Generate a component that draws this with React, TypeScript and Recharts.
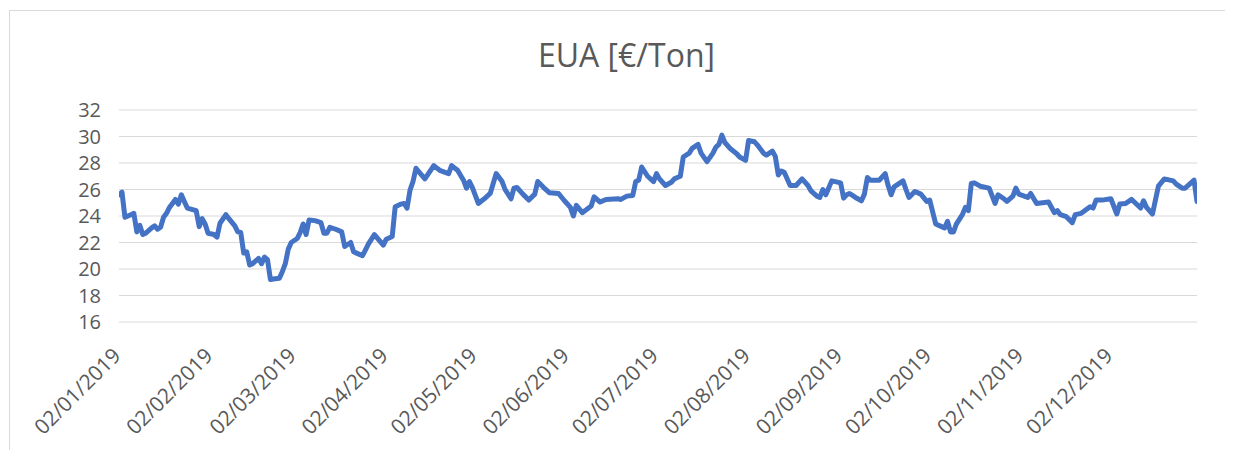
import React from "react";
import { LineChart, Line, XAxis, YAxis, CartesianGrid } from "recharts";

// Trading days of 2019, as day-of-year (1 = 1 Jan)
const dayOfYear = [
  2, 3, 4, 6, 7, 8, 9, 10, 11, 13, 14, 15, 16, 17, 18, 19, 21, 22, 23, 24, 25, 28, 29, 30, 31, 32, 34, 35, 36, 38,
  39, 41, 42, 43, 44, 45, 46, 47, 49, 50, 51, 52, 53, 54, 56, 57, 58, 59, 60, 62, 63, 64, 65, 66, 68, 70, 71, 72, 73, 75,
  77, 78, 80, 81, 82, 84, 85, 86, 88, 91, 92, 94, 95, 97, 98, 99, 100, 101, 102, 105, 108, 110, 113, 114, 116, 118, 119, 120, 121, 123,
  125, 127, 129, 131, 132, 134, 135, 136, 138, 140, 142, 143, 145, 147, 150, 152, 154, 155, 156, 158, 161, 162, 164, 166, 170, 171, 173, 175, 176, 177,
  178, 180, 182, 183, 184, 186, 188, 189, 190, 191, 192, 194, 195, 197, 198, 200, 202, 203, 204, 205, 206, 208, 210, 211, 213, 214, 216, 217, 219, 220,
  222, 223, 224, 225, 226, 228, 230, 232, 234, 235, 237, 238, 239, 240, 242, 245, 246, 247, 248, 250, 252, 253, 254, 255, 258, 260, 261, 262, 263, 266,
  267, 268, 270, 272, 274, 275, 277, 279, 280, 281, 282, 283, 284, 286, 287, 288, 289, 290, 292, 295, 297, 298, 300, 301, 303, 304, 305, 308, 309, 311,
  313, 315, 317, 318, 319, 321, 323, 324, 326, 329, 330, 331, 333, 336, 338, 339, 341, 343, 346, 347, 348, 350, 352, 354, 357, 358, 360, 361, 364, 365,
];

// EUA price [€/Ton]
const euaPrice = [
  25.6, 25.8, 23.9, 24.1, 24.2, 22.8, 23.3, 22.6, 22.7, 23.1, 23.25, 23.0, 23.15, 23.9, 24.2, 24.65, 25.25, 24.9, 25.6, 25.1, 24.6, 24.4, 23.2, 23.8, 23.4, 22.7, 22.6, 22.4, 23.45, 24.1,
  23.8, 23.25, 22.8, 22.75, 21.2, 21.3, 20.3, 20.4, 20.8, 20.4, 20.9, 20.7, 19.2, 19.25, 19.3, 19.8, 20.4, 21.5, 22.0, 22.3, 22.75, 23.4, 22.6, 23.7, 23.65, 23.5, 22.7, 22.7, 23.15, 23.0,
  22.8, 21.7, 22.0, 21.3, 21.2, 21.0, 21.45, 21.9, 22.6, 21.8, 22.25, 22.45, 24.7, 24.9, 24.95, 24.6, 25.95, 26.6, 27.6, 26.8, 27.8, 27.45, 27.2, 27.8, 27.45, 26.7, 26.1, 26.6, 26.15, 24.95,
  25.3, 25.7, 27.2, 26.6, 26.0, 25.3, 26.1, 26.15, 25.65, 25.2, 25.65, 26.6, 26.15, 25.75, 25.7, 25.15, 24.65, 24.0, 24.8, 24.25, 24.75, 25.45, 25.05, 25.25, 25.3, 25.25, 25.5, 25.55, 26.6, 26.7,
  27.7, 27.0, 26.6, 27.2, 26.8, 26.3, 26.55, 26.8, 26.9, 27.0, 28.45, 28.75, 29.1, 29.4, 28.75, 28.1, 28.75, 29.2, 29.4, 30.1, 29.55, 29.05, 28.7, 28.45, 28.2, 29.7, 29.6, 29.35, 28.75, 28.6,
  28.9, 28.5, 27.1, 27.4, 27.3, 26.3, 26.3, 26.8, 26.3, 25.9, 25.5, 25.4, 26.0, 25.6, 26.65, 26.5, 25.35, 25.6, 25.7, 25.4, 25.15, 25.65, 26.9, 26.7, 26.7, 27.2, 26.3, 25.6, 26.2, 26.65,
  26.0, 25.4, 25.85, 25.65, 25.1, 25.2, 23.4, 23.2, 23.1, 23.6, 22.8, 22.8, 23.4, 24.1, 24.65, 24.4, 26.45, 26.5, 26.25, 26.1, 24.95, 25.6, 25.3, 25.1, 25.5, 26.1, 25.65, 25.4, 25.7, 24.95,
  25.0, 25.05, 24.25, 24.4, 24.1, 23.95, 23.5, 24.1, 24.2, 24.7, 24.6, 25.2, 25.2, 25.3, 24.15, 24.9, 24.95, 25.25, 24.6, 25.15, 24.65, 24.15, 26.25, 26.8, 26.65, 26.4, 26.1, 26.1, 26.7, 25.1,
];

// X ticks: the 2nd of every month
const monthTickDays = [2, 33, 61, 92, 122, 153, 183, 214, 245, 275, 306, 336];
const monthTickLabels = [
  "02/01/2019", "02/02/2019", "02/03/2019", "02/04/2019", "02/05/2019", "02/06/2019",
  "02/07/2019", "02/08/2019", "02/09/2019", "02/10/2019", "02/11/2019", "02/12/2019",
];
const yTicks = [16, 18, 20, 22, 24, 26, 28, 30, 32];

const chartTitle = "EUA [€/Ton]";

const data = dayOfYear.map((d, i) => ({ day: d, eua: euaPrice[i] }));

const FONT = "'Open Sans', sans-serif";
const TEXT = "#595959";

const DateTick = (props: any) => {
  const { x, y, payload } = props;
  const idx = monthTickDays.indexOf(payload.value);
  const ax = x + 3;
  const ay = y + 35;
  return (
    <text
      x={ax}
      y={ay}
      transform={`rotate(-45, ${ax}, ${ay})`}
      textAnchor="end"
      fill={TEXT}
      fontSize={21}
      fontFamily={FONT}
    >
      {idx >= 0 ? monthTickLabels[idx] : ""}
    </text>
  );
};

export default function App() {
  return (
    <div style={{ position: "relative", width: 1225, height: 442, overflow: "hidden", background: "#fff" }}>
      <div
        style={{
          position: "absolute",
          left: 1,
          top: 2,
          width: 1300,
          height: 500,
          borderLeft: "1px solid #d9d9d9",
          borderTop: "1px solid #d9d9d9",
          boxSizing: "border-box",
        }}
      />
      <div
        style={{
          position: "absolute",
          left: 0,
          top: 31,
          width: 1237,
          textAlign: "center",
          fontFamily: FONT,
          fontSize: 32,
          lineHeight: "32px",
          color: TEXT,
          whiteSpace: "nowrap",
        }}
      >
        {chartTitle}
      </div>
      <div style={{ position: "absolute", left: 0, top: 0 }}>
        <LineChart width={1225} height={442} data={data} margin={{ top: 102, right: 36, left: 0, bottom: 0 }}>
          <CartesianGrid vertical={false} stroke="#d9d9d9" strokeWidth={1} />
          <XAxis
            dataKey="day"
            type="number"
            domain={[2, 365]}
            ticks={monthTickDays}
            interval={0}
            axisLine={false}
            tickLine={false}
            tickSize={0}
            tickMargin={0}
            height={128}
            tick={<DateTick />}
            allowDataOverflow
          />
          <YAxis
            domain={[16, 32]}
            ticks={yTicks}
            interval={0}
            axisLine={false}
            tickLine={false}
            tickSize={0}
            tickMargin={18}
            width={111}
            tick={{ fill: TEXT, fontSize: 20, fontFamily: FONT }}
            allowDataOverflow
          />
          <Line
            type="linear"
            dataKey="eua"
            stroke="#4472C4"
            strokeWidth={5}
            strokeLinejoin="round"
            strokeLinecap="round"
            dot={false}
            activeDot={false}
            isAnimationActive={false}
          />
        </LineChart>
      </div>
    </div>
  );
}
